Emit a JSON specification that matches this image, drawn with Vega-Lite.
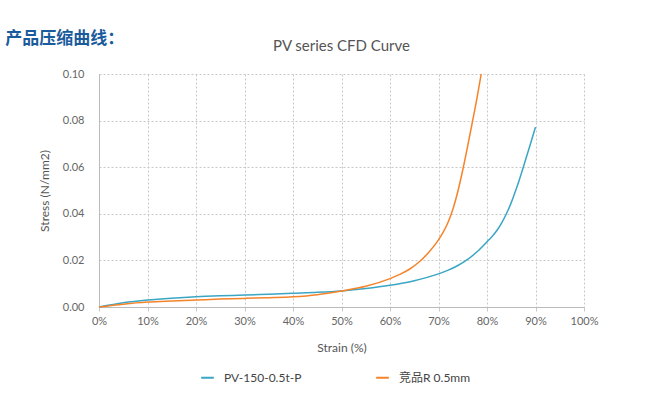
{
  "$schema": "https://vega.github.io/schema/vega-lite/v6.json",
  "padding": {"left": 5, "top": 30, "right": 5, "bottom": 5},
  "background": "white",
  "title": {"text": "产品压缩曲线：", "anchor": "start", "frame": "bounds", "font": "Noto Sans CJK SC", "fontSize": 17, "fontWeight": "bold", "color": "#1a5b9c", "dx": -33, "offset": -9},
  "config": {"view": {"stroke": null}, "font": "Lato"},
  "vconcat": [
    {
      "width": 485,
      "height": 233,
      "title": {"text": "PV series CFD Curve", "font": "Lato", "fontSize": 15, "fontWeight": "normal", "color": "#555", "offset": 14},
      "data": {"values": [
        {"s": "PV-150-0.5t-P", "x": 0, "y": 0},
        {"s": "PV-150-0.5t-P", "x": 5, "y": 0.0018},
        {"s": "PV-150-0.5t-P", "x": 10, "y": 0.003},
        {"s": "PV-150-0.5t-P", "x": 15, "y": 0.0038},
        {"s": "PV-150-0.5t-P", "x": 20, "y": 0.0044},
        {"s": "PV-150-0.5t-P", "x": 25, "y": 0.0048},
        {"s": "PV-150-0.5t-P", "x": 30, "y": 0.0051},
        {"s": "PV-150-0.5t-P", "x": 35, "y": 0.0055},
        {"s": "PV-150-0.5t-P", "x": 40, "y": 0.0059},
        {"s": "PV-150-0.5t-P", "x": 45, "y": 0.0063},
        {"s": "PV-150-0.5t-P", "x": 50, "y": 0.0069},
        {"s": "PV-150-0.5t-P", "x": 55, "y": 0.0079},
        {"s": "PV-150-0.5t-P", "x": 60, "y": 0.0093},
        {"s": "PV-150-0.5t-P", "x": 65, "y": 0.0113},
        {"s": "PV-150-0.5t-P", "x": 70, "y": 0.0142},
        {"s": "PV-150-0.5t-P", "x": 72, "y": 0.0158},
        {"s": "PV-150-0.5t-P", "x": 74, "y": 0.0178},
        {"s": "PV-150-0.5t-P", "x": 76, "y": 0.0204},
        {"s": "PV-150-0.5t-P", "x": 78, "y": 0.0238},
        {"s": "PV-150-0.5t-P", "x": 80, "y": 0.028},
        {"s": "PV-150-0.5t-P", "x": 81, "y": 0.0302},
        {"s": "PV-150-0.5t-P", "x": 82, "y": 0.0327},
        {"s": "PV-150-0.5t-P", "x": 83, "y": 0.036},
        {"s": "PV-150-0.5t-P", "x": 84, "y": 0.04},
        {"s": "PV-150-0.5t-P", "x": 85, "y": 0.0448},
        {"s": "PV-150-0.5t-P", "x": 86, "y": 0.0505},
        {"s": "PV-150-0.5t-P", "x": 87, "y": 0.0568},
        {"s": "PV-150-0.5t-P", "x": 88, "y": 0.0635},
        {"s": "PV-150-0.5t-P", "x": 89, "y": 0.0703},
        {"s": "PV-150-0.5t-P", "x": 90, "y": 0.0772},
        {"s": "竞品R 0.5mm", "x": 0, "y": 0},
        {"s": "竞品R 0.5mm", "x": 5, "y": 0.0012},
        {"s": "竞品R 0.5mm", "x": 10, "y": 0.0021},
        {"s": "竞品R 0.5mm", "x": 15, "y": 0.0026},
        {"s": "竞品R 0.5mm", "x": 20, "y": 0.003},
        {"s": "竞品R 0.5mm", "x": 25, "y": 0.0034},
        {"s": "竞品R 0.5mm", "x": 30, "y": 0.0037},
        {"s": "竞品R 0.5mm", "x": 35, "y": 0.004},
        {"s": "竞品R 0.5mm", "x": 40, "y": 0.0044},
        {"s": "竞品R 0.5mm", "x": 45, "y": 0.0053},
        {"s": "竞品R 0.5mm", "x": 50, "y": 0.0069},
        {"s": "竞品R 0.5mm", "x": 55, "y": 0.0089},
        {"s": "竞品R 0.5mm", "x": 60, "y": 0.0122},
        {"s": "竞品R 0.5mm", "x": 62, "y": 0.014},
        {"s": "竞品R 0.5mm", "x": 64, "y": 0.0162},
        {"s": "竞品R 0.5mm", "x": 66, "y": 0.0193},
        {"s": "竞品R 0.5mm", "x": 68, "y": 0.0235},
        {"s": "竞品R 0.5mm", "x": 70, "y": 0.0288},
        {"s": "竞品R 0.5mm", "x": 71, "y": 0.0322},
        {"s": "竞品R 0.5mm", "x": 72, "y": 0.0365},
        {"s": "竞品R 0.5mm", "x": 73, "y": 0.0422},
        {"s": "竞品R 0.5mm", "x": 74, "y": 0.0497},
        {"s": "竞品R 0.5mm", "x": 75, "y": 0.0588},
        {"s": "竞品R 0.5mm", "x": 76, "y": 0.0689},
        {"s": "竞品R 0.5mm", "x": 77, "y": 0.0795},
        {"s": "竞品R 0.5mm", "x": 78, "y": 0.0904},
        {"s": "竞品R 0.5mm", "x": 78.8, "y": 0.1}
      ]},
      "mark": {"type": "line", "interpolate": "monotone", "strokeWidth": 1.5},
      "encoding": {
        "x": {"field": "x", "type": "quantitative", "scale": {"domain": [0, 100], "nice": false},
          "axis": {"values": [0,10,20,30,40,50,60,70,80,90,100], "labelExpr": "datum.value + '%'", "title": "Strain (%)", "labelFlush": false,
            "grid": true, "gridDash": [2, 2], "gridColor": "#c8c8c8", "domainColor": "#bbbbbb", "tickColor": "#c8c8c8", "tickSize": 4,
            "labelColor": "#666", "labelFontSize": 11, "labelPadding": 4, "titleColor": "#555", "titleFontSize": 12, "titleFontWeight": "normal", "titlePadding": 16}},
        "y": {"field": "y", "type": "quantitative", "scale": {"domain": [0, 0.1], "nice": false},
          "axis": {"values": [0, 0.02, 0.04, 0.06, 0.08, 0.1], "format": ".2f", "title": "Stress (N/mm2)", "labelFlush": false,
            "grid": true, "gridDash": [2, 2], "gridColor": "#c8c8c8", "domainColor": "#bbbbbb", "ticks": false,
            "labelColor": "#666", "labelFontSize": 11, "labelPadding": 15, "titleColor": "#555", "titleFontSize": 12, "titleFontWeight": "normal", "titlePadding": 11}},
        "color": {"field": "s", "type": "nominal", "scale": {"domain": ["PV-150-0.5t-P", "竞品R 0.5mm"], "range": ["#3aa6c4", "#f5832a"]},
          "legend": {"orient": "none", "legendX": 101, "legendY": 296, "direction": "horizontal", "title": null, "symbolType": "stroke", "symbolSize": 160, "symbolStrokeWidth": 2,
            "labelFont": "Lato, Noto Sans CJK SC", "labelFontSize": 12, "labelColor": "#444", "columnPadding": 70, "labelOffset": 9}}
      }
    }
  ]
}
